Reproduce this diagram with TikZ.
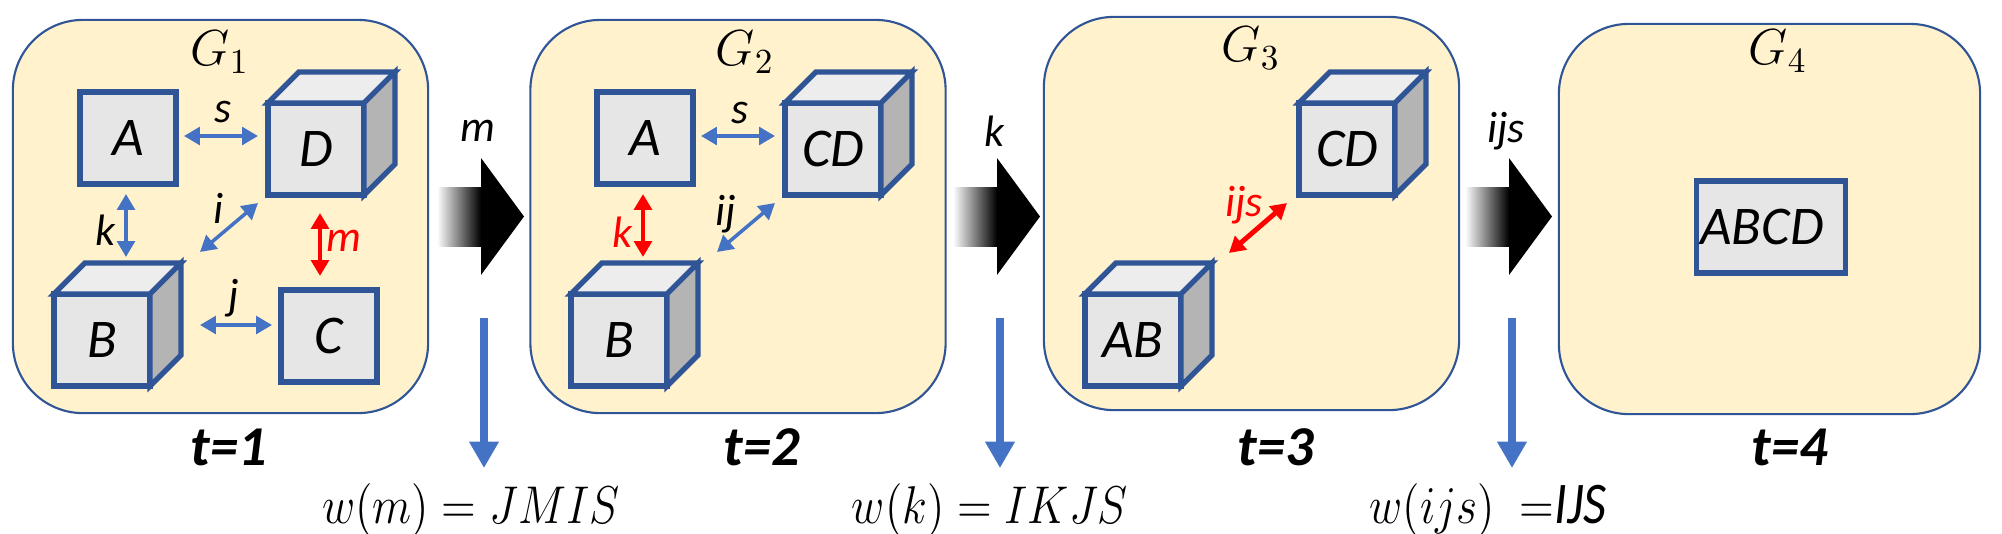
\documentclass[tikz,border=0pt]{standalone}
\usepackage{fontspec}
\setmainfont{Carlito}
\usetikzlibrary{arrows.meta}
\definecolor{panelfill}{HTML}{FFF2CC}
\definecolor{boxblue}{HTML}{2F5597}
\definecolor{facegray}{HTML}{E6E6E6}
\definecolor{topgray}{HTML}{EDEDED}
\definecolor{sidegray}{HTML}{B4B4B4}
\definecolor{linkblue}{HTML}{4472C4}

% top and right faces of a cube whose front face is node #1
\newcommand{\cubeback}[1]{%
  \draw[cubeline,fill=topgray] (#1.north west) -- ++(31,-31) -- ([shift={(31,-31)}]#1.north east) -- (#1.north east) -- cycle;
  \draw[cubeline,fill=sidegray] (#1.north east) -- ++(31,-31) -- ([shift={(31,-31)}]#1.south east) -- (#1.south east) -- cycle;}

\begin{document}
\begin{tikzpicture}[x=0.01cm,y=-0.01cm,
    panel/.style={draw=boxblue,line width=0.6pt,fill=panelfill,rounded corners=0.7cm,minimum width=4.15cm,minimum height=3.93cm},
    cubeline/.style={draw=boxblue,line width=1.5pt},
    face/.style={cubeline,fill=facegray,outer sep=0pt,inner sep=0pt,minimum width=0.96cm,minimum height=0.92cm,font=\fontsize{15.5}{17}\selectfont\itshape},
    link/.style={{Triangle[width=5pt,length=4.5pt]}-{Triangle[width=5pt,length=4.5pt]},draw=linkblue,line width=1pt},
    hot/.style={link,draw=red,line width=1.4pt},
    elab/.style={font=\fontsize{12.5}{14}\selectfont\itshape},
    hotlab/.style={elab,text=red},
    glab/.style={font=\fontsize{14}{16}\selectfont},
    tlab/.style={font=\fontsize{16}{18}\selectfont\bfseries\itshape},
    wlab/.style={font=\fontsize{13.5}{15}\selectfont},
    drop/.style={-{Triangle[width=8pt,length=7.5pt]},draw=linkblue,line width=2pt}]
  \useasboundingbox (0,0) rectangle (2002,533);

  % the four graphs
  \node[panel] (p1) at (220.5,216.5) {};
  \node[panel] (p2) at (738,216.5) {};
  \node[panel] (p3) at (1251.5,213.5) {};
  \node[panel,minimum width=4.21cm,minimum height=3.9cm] (p4) at (1769.5,219) {};
  \node[glab] (g1) at (220,52) {$G_1$};
  \node[glab] (g2) at (745,52) {$G_2$};
  \node[glab] (g3) at (1251,48) {$G_3$};
  \node[glab] (g4) at (1778,51) {$G_4$};

  % t=1
  \node[face] (a1) at (128,138) {A};
  \node[face] (d1) at (316,149) {D}; \cubeback{d1}
  \node[face] (b1) at (102,340) {B}; \cubeback{b1}
  \node[face] (c1) at (329,336) {C};
  \draw[link] ([shift={(8,-2)}]a1.east) -- ([shift={(-10,-13)}]d1.west);
  \draw[link] ([shift={(-2,10)}]a1.south) -- ([shift={(24,-37)}]b1.north);
  \draw[link] ([shift={(50,-42)}]b1.north east) -- ([shift={(-10,8)}]d1.south west);
  \draw[hot] ([shift={(4,18)}]d1.south) -- ([shift={(-9,-14)}]c1.north);
  \draw[link] ([shift={(50,-15)}]b1.east) -- ([shift={(-9,-11)}]c1.west);
  \node[elab] (ls1) at (223,112) {s};
  \node[elab] (lk1) at (105,230) {k};
  \node[elab] (li1) at (219,208) {i};
  \node[hotlab] (lm1) at (344,241) {m};
  \node[elab] (lj1) at (234,298) {j};

  % t=2
  \node[face] (a2) at (645,138) {A};
  \node[face] (cd2) at (833,149) {CD}; \cubeback{cd2}
  \node[face] (b2) at (619,340) {B}; \cubeback{b2}
  \draw[link] ([shift={(8,-2)}]a2.east) -- ([shift={(-10,-13)}]cd2.west);
  \draw[hot] ([shift={(-2,10)}]a2.south) -- ([shift={(24,-37)}]b2.north);
  \draw[link] ([shift={(50,-42)}]b2.north east) -- ([shift={(-10,8)}]cd2.south west);
  \node[elab] (ls2) at (740,113) {s};
  \node[hotlab] (lk2) at (622,232) {k};
  \node[elab] (lij2) at (726,214) {ij};

  % t=3
  \node[face] (cd3) at (1347,149) {CD}; \cubeback{cd3}
  \node[face] (ab3) at (1133,340) {AB}; \cubeback{ab3}
  \draw[hot] ([shift={(48,-41)}]ab3.north east) -- ([shift={(-12,8)}]cd3.south west);
  \node[hotlab] (lijs3) at (1244,205) {ijs};

  % t=4
  \node[face,minimum width=1.49cm] (abcd4) at (1771,227) {\hspace*{-0.18cm}ABCD};

  \node[tlab] (t1) at (229,447) {t=1};
  \node[tlab] (t2) at (762,447) {t=2};
  \node[tlab] (t3) at (1276,447) {t=3};
  \node[tlab] (t4) at (1790,447) {t=4};

  % merge steps
  \foreach \x/\e in {437/m,953/k,1465/ijs}{
    \shade[left color=white,right color=black] (\x,187) rectangle (\x+44,246);
    \fill[black] (\x+44,158) -- (\x+87,216.5) -- (\x+44,275) -- cycle;
    \node[elab] (e\x) at (\x+41,131) {\e};
    \coordinate (top\x) at (\x+47,318);
    \coordinate (tip\x) at (\x+47,468);
    \draw[drop] (top\x) -- (tip\x);
  }
  \node[wlab] (w1) at (471,510) {\scalebox{0.9}[1.05]{$w(m) = JMIS$}};
  \node[wlab] (w2) at (990,510) {\scalebox{0.9}[1.05]{$w(k) = IKJS$}};
  \node[wlab] (w3) at (1488,510) {\scalebox{0.9}[1.05]{$w(ijs)\;=${\fontsize{16}{18}\selectfont\itshape IJS}}};
\end{tikzpicture}
\end{document}
